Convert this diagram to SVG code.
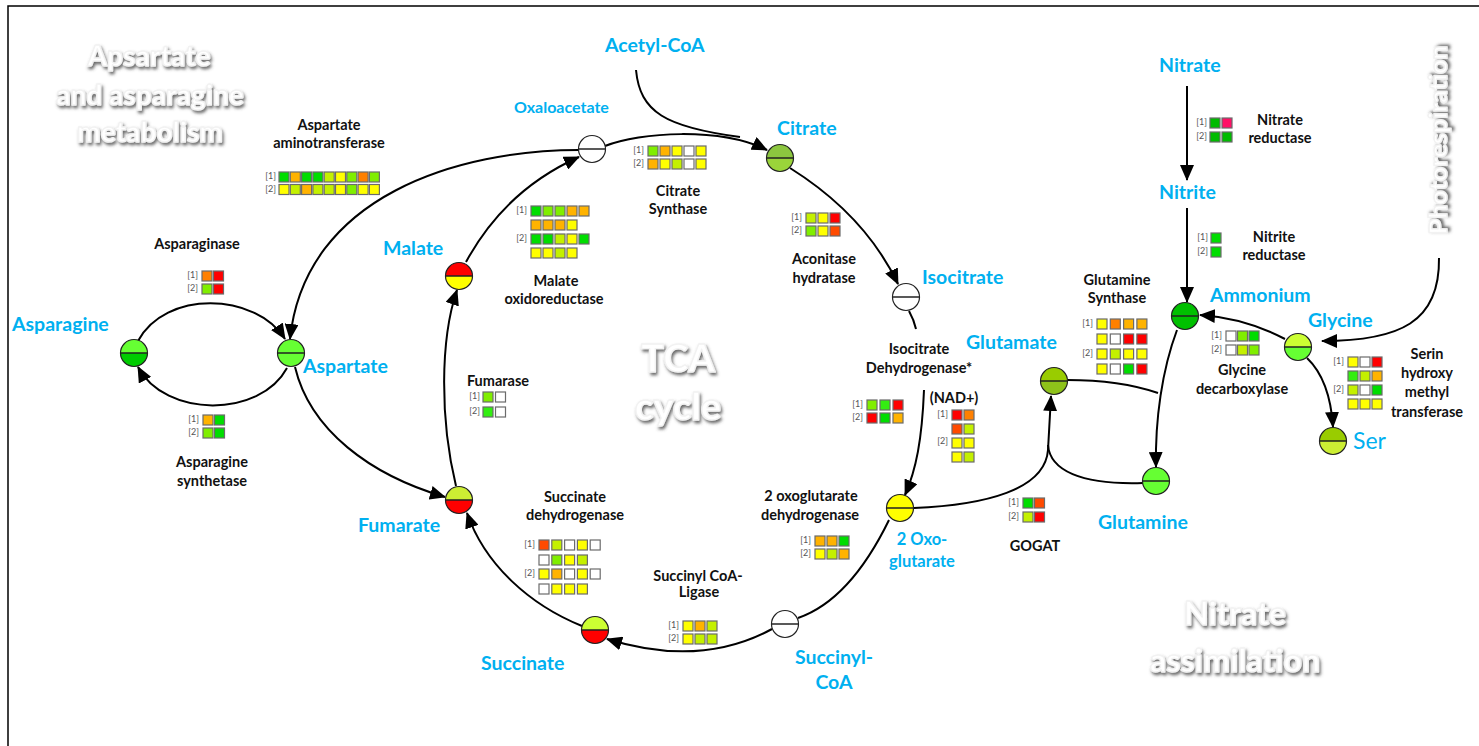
<svg xmlns="http://www.w3.org/2000/svg" xmlns:xlink="http://www.w3.org/1999/xlink" width="1479" height="746" viewBox="0 0 1479 746">
<style>
.bl{font-family:Lato,"Liberation Sans",sans-serif;font-weight:bold;fill:#00b0f0;font-size:19.5px}
.en{font-family:Lato,"Liberation Sans",sans-serif;font-weight:bold;fill:#111;font-size:14.5px;text-anchor:middle}
.ix{font-family:Lato,"Liberation Sans",sans-serif;fill:#555;font-size:9px;text-anchor:end}
.ti{font-family:Lato,"Liberation Sans",sans-serif;font-weight:900;fill:#fff;stroke:#f2f2f2;stroke-width:1.4;stroke-linejoin:round;text-anchor:middle;filter:url(#sh)}
.ln{fill:none;stroke:#000;stroke-width:2}
.ar{marker-end:url(#ah)}
.c rect{stroke:#6b6b6b;stroke-width:1.2;width:10px;height:10px}
.G{fill:#00dd00}.G2{fill:#33ee11}.LG{fill:#80ee00}.YG{fill:#c4f000}.Y{fill:#ffff00}.O{fill:#ffb300}.DO{fill:#ff8000}.OR{fill:#ff4a00}.R{fill:#ff0000}.P{fill:#ff1066}.W{fill:#ffffff}.DG{fill:#00bb00}
</style>
<defs>
<filter id="sh" x="-10%" y="-20%" width="130%" height="160%"><feDropShadow dx="1.5" dy="2.5" stdDeviation="1.6" flood-color="#444" flood-opacity="0.8"/></filter>
<marker id="ah" viewBox="0 0 16 14" refX="15" refY="7" markerWidth="16" markerHeight="14" markerUnits="userSpaceOnUse" orient="auto"><path d="M0,0 L16,7 L0,14 Z" fill="#000"/></marker>
<path id="th" d="M-13.5,0 A13.5,13.5 0 0 1 13.5,0 Z"/>
<path id="bh" d="M-13.5,0 A13.5,13.5 0 0 0 13.5,0 Z"/>
<g id="ring"><circle r="13.5" fill="none" stroke="#222" stroke-width="1.2"/><line x1="-13.5" y1="0" x2="13.5" y2="0" stroke="#222" stroke-width="1.5"/></g>
</defs>
<rect width="1479" height="746" fill="#fff"/>
<path d="M8,746 L8,6 L1479,6" fill="none" stroke="#000" stroke-width="1.5"/>

<!-- titles -->
<g id="titles">
<text class="ti" x="149" y="66" font-size="28">Apsartate</text>
<text class="ti" x="150" y="105" font-size="28">and asparagine</text>
<text class="ti" x="150" y="142" font-size="28">metabolism</text>
<text class="ti" x="678" y="372" font-size="38">TCA</text>
<text class="ti" x="678" y="420" font-size="38">cycle</text>
<text class="ti" x="1235" y="625" font-size="32">Nitrate</text>
<text class="ti" x="1235" y="672" font-size="32">assimilation</text>
<text class="ti" transform="translate(1447,140) rotate(-90)" x="0" y="0" font-size="25">Photorespiration</text>
</g>

<!-- connectors -->
<g id="connectors">
<path class="ln ar" d="M466,262 Q505,190 579,157"/>
<path class="ln ar" d="M605,146 C640,132 720,127 767,150"/>
<path class="ln" d="M636,70 C640,112 665,127 740,137"/>
<path class="ln ar" d="M790,168 Q865,215 898,284"/>
<path class="ln" d="M909,311 Q914,320 916,329"/>
<path class="ln ar" d="M924,390 C922,440 916,470 905,495"/>
<path class="ln" d="M889,520 Q850,600 798,618"/>
<path class="ln ar" d="M772,629 Q700,668 607,639"/>
<path class="ln ar" d="M582,626 C530,605 485,565 467,513"/>
<path class="ln ar" d="M456,486 C440,420 440,340 457,290"/>
<path class="ln ar" d="M579,150 C460,150 305,195 290,339"/>
<path class="ln ar" d="M295,367 C310,430 370,475 445,497"/>
<path class="ln ar" d="M138,341 C165,290 255,292 285,339"/>
<path class="ln ar" d="M287,368 C260,418 165,418 138,367"/>
<path class="ln ar" d="M1187,86 L1187,180"/>
<path class="ln ar" d="M1187,208 L1187,302"/>
<path class="ln ar" d="M1177,330 C1162,370 1155,420 1156,467"/>
<path class="ln" d="M1067,380 Q1120,380 1158,393"/>
<path class="ln ar" d="M914,508 C985,505 1045,490 1048,450 L1051,396"/>
<path class="ln" d="M1143,483 C1080,485 1050,470 1048,445"/>
<path class="ln ar" d="M1285,339 Q1245,318 1200,315"/>
<path class="ln ar" d="M1307,358 Q1330,380 1333,427"/>
<path class="ln ar" d="M1439,258 C1440,322 1400,341 1322,341"/>
</g>

<!-- metabolite nodes -->
<g id="n-oxaloacetate"><g transform="translate(592,149)"><use href="#th" fill="#fff"/><use href="#bh" fill="#fff"/><use href="#ring"/></g><text class="bl" x="514" y="113" style="font-size:16px">Oxaloacetate</text></g>
<g id="n-acetylcoa"><text class="bl" x="605" y="52">Acetyl-CoA</text></g>
<g id="n-citrate"><g transform="translate(780,158)"><use href="#th" fill="#8cc63f"/><use href="#bh" fill="#9ad43a"/><use href="#ring"/></g><text class="bl" x="777" y="135">Citrate</text></g>
<g id="n-isocitrate"><g transform="translate(906,297)"><use href="#th" fill="#fff"/><use href="#bh" fill="#fff"/><use href="#ring"/></g><text class="bl" x="922" y="284">Isocitrate</text></g>
<g id="n-oxoglutarate"><g transform="translate(900,508)"><use href="#th" fill="#ffff00"/><use href="#bh" fill="#ffff00"/><use href="#ring"/></g><text class="bl" x="922" y="545" text-anchor="middle" style="font-size:16.5px">2 Oxo-</text><text class="bl" x="922" y="567" text-anchor="middle" style="font-size:16.5px">glutarate</text></g>
<g id="n-succinylcoa"><g transform="translate(785,624)"><use href="#th" fill="#fff"/><use href="#bh" fill="#fff"/><use href="#ring"/></g><text class="bl" x="834" y="664" text-anchor="middle">Succinyl-</text><text class="bl" x="834" y="689" text-anchor="middle">CoA</text></g>
<g id="n-succinate"><g transform="translate(595,630)"><use href="#th" fill="#ccff33"/><use href="#bh" fill="#ff0000"/><use href="#ring"/></g><text class="bl" x="481" y="670">Succinate</text></g>
<g id="n-fumarate"><g transform="translate(459,500)"><use href="#th" fill="#ccee33"/><use href="#bh" fill="#ff0000"/><use href="#ring"/></g><text class="bl" x="358" y="532">Fumarate</text></g>
<g id="n-malate"><g transform="translate(459,276)"><use href="#th" fill="#ff0000"/><use href="#bh" fill="#ffff00"/><use href="#ring"/></g><text class="bl" x="383" y="255">Malate</text></g>
<g id="n-aspartate"><g transform="translate(291,353)"><use href="#th" fill="#66ff33"/><use href="#bh" fill="#66ff33"/><use href="#ring"/></g><text class="bl" x="303" y="373">Aspartate</text></g>
<g id="n-asparagine"><g transform="translate(134,353)"><use href="#th" fill="#66ff33"/><use href="#bh" fill="#00cc00"/><use href="#ring"/></g><text class="bl" x="12" y="331">Asparagine</text></g>
<g id="n-glutamate"><g transform="translate(1054,381)"><use href="#th" fill="#99cc00"/><use href="#bh" fill="#8ec21a"/><use href="#ring"/></g><text class="bl" x="966" y="349">Glutamate</text></g>
<g id="n-glutamine"><g transform="translate(1156,481)"><use href="#th" fill="#66ff33"/><use href="#bh" fill="#66ff33"/><use href="#ring"/></g><text class="bl" x="1098" y="529">Glutamine</text></g>
<g id="n-ammonium"><g transform="translate(1185,316)"><use href="#th" fill="#00c000"/><use href="#bh" fill="#00c000"/><use href="#ring"/></g><text class="bl" x="1210" y="302">Ammonium</text></g>
<g id="n-glycine"><g transform="translate(1298,347)"><use href="#th" fill="#ccff33"/><use href="#bh" fill="#66ff33"/><use href="#ring"/></g><text class="bl" x="1308" y="327">Glycine</text></g>
<g id="n-ser"><g transform="translate(1333,441)"><use href="#th" fill="#99cc00"/><use href="#bh" fill="#ccee33"/><use href="#ring"/></g><text class="bl" x="1353" y="449" style="font-size:23px;font-weight:normal">Ser</text></g>
<g id="n-nitrate"><text class="bl" x="1159" y="72">Nitrate</text></g>
<g id="n-nitrite"><text class="bl" x="1159" y="199">Nitrite</text></g>

<!-- enzymes -->
<g id="e-aat"><text class="en" x="329" y="130">Aspartate</text><text class="en" x="329" y="148">aminotransferase</text>
<text class="ix" x="276" y="179">[1]</text><text class="ix" x="276" y="192">[2]</text>
<g class="c"><rect x="279" y="172" class="G"/><rect x="290.3" y="172" class="O"/><rect x="301.6" y="172" class="G"/><rect x="312.9" y="172" class="G"/><rect x="324.2" y="172" class="YG"/><rect x="335.5" y="172" class="Y"/><rect x="346.8" y="172" class="LG"/><rect x="358.1" y="172" class="DO"/><rect x="369.4" y="172" class="LG"/>
<rect x="279" y="184.5" class="Y"/><rect x="290.3" y="184.5" class="YG"/><rect x="301.6" y="184.5" class="O"/><rect x="312.9" y="184.5" class="YG"/><rect x="324.2" y="184.5" class="YG"/><rect x="335.5" y="184.5" class="Y"/><rect x="346.8" y="184.5" class="LG"/><rect x="358.1" y="184.5" class="Y"/><rect x="369.4" y="184.5" class="Y"/></g></g>

<g id="e-asparaginase"><text class="en" x="197" y="249">Asparaginase</text>
<text class="ix" x="198" y="278">[1]</text><text class="ix" x="198" y="291">[2]</text>
<g class="c"><rect x="202" y="271" class="DO"/><rect x="213.5" y="271" class="R"/><rect x="202" y="284" class="LG"/><rect x="213.5" y="284" class="R"/></g></g>

<g id="e-asnsynth"><text class="en" x="212" y="467">Asparagine</text><text class="en" x="212" y="486">synthetase</text>
<text class="ix" x="199" y="422">[1]</text><text class="ix" x="199" y="435">[2]</text>
<g class="c"><rect x="203" y="415" class="O"/><rect x="214.5" y="415" class="G"/><rect x="203" y="428" class="LG"/><rect x="214.5" y="428" class="G"/></g></g>

<g id="e-cs"><text class="en" x="678" y="196">Citrate</text><text class="en" x="678" y="214">Synthase</text>
<text class="ix" x="644" y="153">[1]</text><text class="ix" x="644" y="166">[2]</text>
<g class="c"><rect x="648" y="146" class="LG"/><rect x="660" y="146" class="O"/><rect x="672" y="146" class="Y"/><rect x="684" y="146" class="W"/><rect x="696" y="146" class="Y"/>
<rect x="648" y="159" class="O"/><rect x="660" y="159" class="Y"/><rect x="672" y="159" class="YG"/><rect x="684" y="159" class="W"/><rect x="696" y="159" class="Y"/></g></g>

<g id="e-mdh"><text class="en" x="556" y="286">Malate</text><text class="en" x="554" y="304">oxidoreductase</text>
<text class="ix" x="527" y="213">[1]</text><text class="ix" x="527" y="241">[2]</text>
<g class="c"><rect x="531" y="206" class="G"/><rect x="543" y="206" class="LG"/><rect x="555" y="206" class="LG"/><rect x="567" y="206" class="O"/><rect x="579" y="206" class="O"/>
<rect x="531" y="220" class="O"/><rect x="543" y="220" class="O"/><rect x="555" y="220" class="O"/><rect x="567" y="220" class="Y"/>
<rect x="531" y="234" class="G"/><rect x="543" y="234" class="G"/><rect x="555" y="234" class="YG"/><rect x="567" y="234" class="Y"/><rect x="579" y="234" class="G"/>
<rect x="531" y="248" class="Y"/><rect x="543" y="248" class="Y"/><rect x="555" y="248" class="YG"/><rect x="567" y="248" class="Y"/></g></g>

<g id="e-aco"><text class="en" x="824" y="264">Aconitase</text><text class="en" x="824" y="283">hydratase</text>
<text class="ix" x="802" y="220">[1]</text><text class="ix" x="802" y="233">[2]</text>
<g class="c"><rect x="806" y="213" class="YG"/><rect x="818" y="213" class="Y"/><rect x="830" y="213" class="R"/><rect x="806" y="226" class="LG"/><rect x="818" y="226" class="Y"/><rect x="830" y="226" class="OR"/></g></g>

<g id="e-idh"><text class="en" x="919" y="354">Isocitrate</text><text class="en" x="919" y="373">Dehydrogenase*</text>
<text class="ix" x="863" y="407">[1]</text><text class="ix" x="863" y="420">[2]</text>
<g class="c"><rect x="867" y="400" class="LG"/><rect x="880" y="400" class="G2"/><rect x="893" y="400" class="R"/><rect x="867" y="413" class="R"/><rect x="880" y="413" class="G"/><rect x="893" y="413" class="O"/></g></g>

<g id="e-idh-nad"><text class="en" x="954" y="403">(NAD+)</text>
<text class="ix" x="948" y="417">[1]</text><text class="ix" x="948" y="444">[2]</text>
<g class="c"><rect x="952" y="410" class="R"/><rect x="964" y="410" class="DO"/><rect x="952" y="424" class="OR"/><rect x="964" y="424" class="YG"/>
<rect x="952" y="438" class="Y"/><rect x="964" y="438" class="Y"/><rect x="952" y="452" class="Y"/><rect x="964" y="452" class="YG"/></g></g>

<g id="e-fum"><text class="en" x="498" y="386">Fumarase</text>
<text class="ix" x="480" y="399">[1]</text><text class="ix" x="480" y="414">[2]</text>
<g class="c"><rect x="483" y="392" class="LG"/><rect x="495.5" y="392" class="W"/><rect x="483" y="407" class="G2"/><rect x="495.5" y="407" class="W"/></g></g>

<g id="e-sdh"><text class="en" x="575" y="502">Succinate</text><text class="en" x="575" y="520">dehydrogenase</text>
<text class="ix" x="535" y="547">[1]</text><text class="ix" x="535" y="576">[2]</text>
<g class="c"><rect x="539" y="540" class="OR"/><rect x="551.8" y="540" class="YG"/><rect x="564.6" y="540" class="W"/><rect x="577.4" y="540" class="Y"/><rect x="590.2" y="540" class="W"/>
<rect x="539" y="555" class="W"/><rect x="551.8" y="555" class="LG"/><rect x="564.6" y="555" class="Y"/><rect x="577.4" y="555" class="YG"/>
<rect x="539" y="569" class="Y"/><rect x="551.8" y="569" class="O"/><rect x="564.6" y="569" class="W"/><rect x="577.4" y="569" class="Y"/><rect x="590.2" y="569" class="W"/>
<rect x="539" y="584" class="W"/><rect x="551.8" y="584" class="Y"/><rect x="564.6" y="584" class="Y"/><rect x="577.4" y="584" class="Y"/></g></g>

<g id="e-scl"><text class="en" x="698" y="581">Succinyl CoA-</text><text class="en" x="699" y="597">Ligase</text>
<text class="ix" x="679" y="628">[1]</text><text class="ix" x="679" y="641">[2]</text>
<g class="c"><rect x="683" y="621" class="Y"/><rect x="695" y="621" class="O"/><rect x="707" y="621" class="YG"/><rect x="683" y="634" class="Y"/><rect x="695" y="634" class="YG"/><rect x="707" y="634" class="YG"/></g></g>

<g id="e-ogdh"><text class="en" x="811" y="501">2 oxoglutarate</text><text class="en" x="810" y="520">dehydrogenase</text>
<text class="ix" x="811" y="543">[1]</text><text class="ix" x="811" y="556">[2]</text>
<g class="c"><rect x="815" y="536" class="O"/><rect x="827" y="536" class="O"/><rect x="839" y="536" class="G"/><rect x="815" y="549" class="Y"/><rect x="827" y="549" class="YG"/><rect x="839" y="549" class="O"/></g></g>

<g id="e-gogat"><text class="en" x="1035" y="551">GOGAT</text>
<text class="ix" x="1019" y="505">[1]</text><text class="ix" x="1019" y="519">[2]</text>
<g class="c"><rect x="1023" y="498" class="G"/><rect x="1034.5" y="498" class="OR"/><rect x="1023" y="512" class="YG"/><rect x="1034.5" y="512" class="R"/></g></g>

<g id="e-nr"><text class="en" x="1280" y="125">Nitrate</text><text class="en" x="1280" y="143">reductase</text>
<text class="ix" x="1207" y="125">[1]</text><text class="ix" x="1207" y="139">[2]</text>
<g class="c"><rect x="1210" y="118" class="DG"/><rect x="1222" y="118" class="P"/><rect x="1210" y="132" class="DG"/><rect x="1222" y="132" class="DG"/></g></g>

<g id="e-nir"><text class="en" x="1274" y="242">Nitrite</text><text class="en" x="1274" y="260">reductase</text>
<text class="ix" x="1208" y="240">[1]</text><text class="ix" x="1208" y="254">[2]</text>
<g class="c"><rect x="1211" y="233" class="G"/><rect x="1211" y="247" class="G"/></g></g>

<g id="e-gs"><text class="en" x="1117" y="285">Glutamine</text><text class="en" x="1117" y="303">Synthase</text>
<text class="ix" x="1093" y="326">[1]</text><text class="ix" x="1093" y="356">[2]</text>
<g class="c"><rect x="1097" y="319" class="Y"/><rect x="1110.3" y="319" class="DO"/><rect x="1123.6" y="319" class="O"/><rect x="1136.9" y="319" class="O"/>
<rect x="1097" y="334" class="Y"/><rect x="1110.3" y="334" class="W"/><rect x="1123.6" y="334" class="R"/><rect x="1136.9" y="334" class="R"/>
<rect x="1097" y="349" class="Y"/><rect x="1110.3" y="349" class="YG"/><rect x="1123.6" y="349" class="Y"/><rect x="1136.9" y="349" class="Y"/>
<rect x="1097" y="364" class="Y"/><rect x="1110.3" y="364" class="W"/><rect x="1123.6" y="364" class="G"/><rect x="1136.9" y="364" class="R"/></g></g>

<g id="e-gdc"><text class="en" x="1242" y="375">Glycine</text><text class="en" x="1242" y="394">decarboxylase</text>
<text class="ix" x="1222" y="338">[1]</text><text class="ix" x="1222" y="352">[2]</text>
<g class="c"><rect x="1226" y="331" class="W"/><rect x="1237.5" y="331" class="LG"/><rect x="1249" y="331" class="G"/><rect x="1226" y="345" class="W"/><rect x="1237.5" y="345" class="YG"/><rect x="1249" y="345" class="LG"/></g></g>

<g id="e-shmt"><text class="en" x="1427" y="359">Serin</text><text class="en" x="1427" y="378">hydroxy</text><text class="en" x="1427" y="397">methyl</text><text class="en" x="1427" y="417">transferase</text>
<text class="ix" x="1344" y="364">[1]</text><text class="ix" x="1344" y="392">[2]</text>
<g class="c"><rect x="1348" y="357" class="Y"/><rect x="1360" y="357" class="W"/><rect x="1372" y="357" class="R"/>
<rect x="1348" y="371" class="G2"/><rect x="1360" y="371" class="YG"/><rect x="1372" y="371" class="O"/>
<rect x="1348" y="385" class="YG"/><rect x="1360" y="385" class="W"/><rect x="1372" y="385" class="G"/>
<rect x="1348" y="399" class="Y"/><rect x="1360" y="399" class="Y"/><rect x="1372" y="399" class="Y"/></g></g>
</svg>
